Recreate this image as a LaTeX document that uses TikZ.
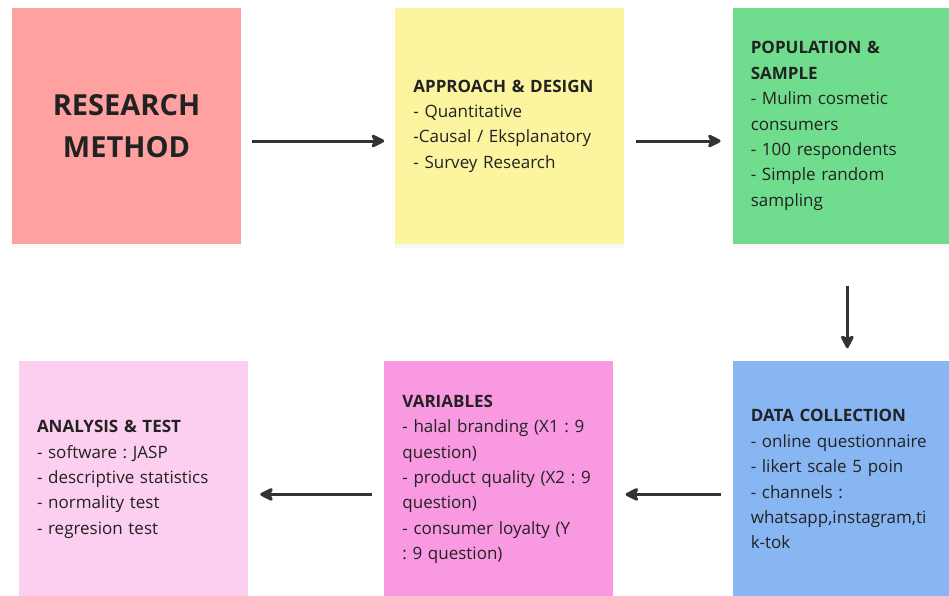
\documentclass[tikz,border=0pt]{standalone}
\usepackage{fontspec}
\setmainfont{Open Sans}
\usepackage{xcolor}
\definecolor{cText}{HTML}{222222}
\definecolor{cArrow}{HTML}{333333}
\definecolor{cRed}{HTML}{FFA1A1}
\definecolor{cYellow}{HTML}{FDF4A0}
\definecolor{cGreen}{HTML}{70DC8D}
\definecolor{cBlue}{HTML}{88B6F3}
\definecolor{cMagenta}{HTML}{F899E1}
\definecolor{cPink}{HTML}{FCCFF0}
\usepackage{tikz}
\usetikzlibrary{positioning,arrows.meta,shadows}
\frenchspacing
\tikzset{
  node-note/.style={draw=none,minimum width=229pt,minimum height=236pt,
    text width=193pt,inner xsep=18pt,inner ysep=0pt,align=left,text=cText,
    font=\fontsize{17}{25.4}\selectfont,
    drop shadow={opacity=0.06,shadow xshift=0pt,shadow yshift=-4pt}},
  node-title/.style={node-note,align=center,
    font=\fontsize{29}{42}\selectfont\bfseries},
  arrow/.style={-{Stealth[length=16pt,width=16pt,inset=4pt,round]},
    line width=3pt,draw=cArrow},
}

\begin{document}
\begin{tikzpicture}
  \useasboundingbox (0,0) rectangle (949pt,-595pt);
  \node[node-title,fill=cRed] (method) at (126.5pt,-126pt) {RESEARCH\\METHOD};
  \node[node-note,fill=cYellow,right=154pt of method] (design)
    {\textbf{APPROACH \& DESIGN}\\- Quantitative\\-Causal / Eksplanatory\\- Survey Research};
  \node[node-note,fill=cGreen,right=108pt of design] (sample)
    {\textbf{POPULATION \&}\\\textbf{SAMPLE}\\- Mulim cosmetic\\consumers\\- 100 respondents\\- Simple random\\sampling};
  \node[node-note,fill=cBlue,below=117pt of sample] (collect)
    {\textbf{DATA COLLECTION}\\- online questionnaire\\- likert scale 5 poin\\- channels :\\whatsapp,instagram,ti\\k-tok};
  \node[node-note,fill=cMagenta,left=119pt of collect] (vars)
    {\textbf{VARIABLES}\\- halal branding (X1 : 9\\question)\\- product quality (X2 : 9\\question)\\- consumer loyalty (Y\\: 9 question)};
  \node[node-note,fill=cPink,left=136pt of vars] (test)
    {\textbf{ANALYSIS \& TEST}\\- software : JASP\\- descriptive statistics\\- normality test\\- regresion test};
  % flow: top row left to right, down, bottom row right to left
  \draw[arrow,shorten <=11pt,shorten >=11pt] ([yshift=-15pt]method.east) -- ([yshift=-15pt]design.west);
  \draw[arrow,shorten <=11pt,shorten >=12pt] ([yshift=-15pt]design.east) -- ([yshift=-15pt]sample.west);
  \draw[arrow,shorten <=42pt,shorten >=13pt] (sample.south) -- (collect.north);
  \draw[arrow,shorten <=12pt,shorten >=12pt] ([yshift=-15pt]collect.west) -- ([yshift=-15pt]vars.east);
  \draw[arrow,shorten <=12pt,shorten >=12pt] ([yshift=-15pt]vars.west) -- ([yshift=-15pt]test.east);
\end{tikzpicture}
\end{document}
